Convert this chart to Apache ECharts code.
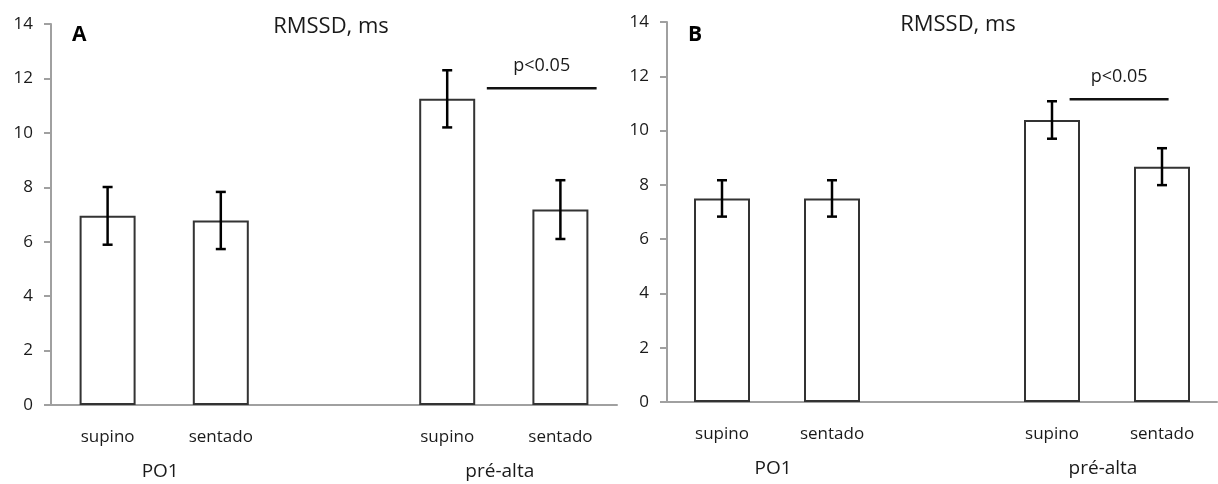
<!DOCTYPE html>
<html><head><meta charset="utf-8">
<script src="https://cdn.jsdelivr.net/npm/echarts@6/dist/echarts.min.js"></script>
<style>html,body{margin:0;padding:0;background:#fff}#c{width:1218px;height:484px}</style>
</head><body><div id="c"></div>
<script>
// ---- data ----
const categories = ['supino', 'sentado', '', 'supino', 'sentado'];
const groupNames = ['PO1', 'pré-alta'];
const groupFrom = [0, 3];
const groupTo = [1, 4];
const yMin = 0, yMax = 14, yStep = 2;
const titleText = 'RMSSD, ms';
const panelLetters = ['A', 'B'];

const meanA = [6.95, 6.78, null, 11.25, 7.18];
const errA  = [1.06, 1.05, null, 1.05, 1.08];
const meanB = [7.50, 7.50, null, 10.39, 8.67];
const errB  = [0.67, 0.67, null, 0.69, 0.68];

const sigText = 'p<0.05';
const sigFromA = 3.35, sigToA = 4.32, sigYA = 11.64;
const sigFromB = 3.16, sigToB = 4.06, sigYB = 11.15;

// ---- rendering ----
const FONT = '"Open Sans"';
const TXT = '#1a1a1a';
const AXIS = '#a0a0a0';

function errData(mean, err) {
  const out = [];
  mean.forEach((m, i) => { if (m != null) out.push([i, m - err[i], m + err[i]]); });
  return out;
}
function fracX(api, f, y) {
  const base = Math.floor(f);
  const band = api.size([1, 0])[0];
  return api.coord([base, y])[0] + (f - base) * band;
}
function errSeries(idx, mean, err) {
  return {
    type: 'custom', xAxisIndex: idx, yAxisIndex: idx, z: 5,
    data: errData(mean, err),
    encode: { x: 0, y: [1, 2] },
    renderItem(params, api) {
      const x = api.value(0);
      const pHi = api.coord([x, api.value(2)]);
      const pLo = api.coord([x, api.value(1)]);
      const c = 5;
      const st = { stroke: '#000', lineWidth: 2.5 };
      return { type: 'group', children: [
        { type: 'line', shape: { x1: pHi[0], y1: pHi[1], x2: pLo[0], y2: pLo[1] }, style: st },
        { type: 'line', shape: { x1: pHi[0] - c, y1: pHi[1], x2: pHi[0] + c, y2: pHi[1] }, style: st },
        { type: 'line', shape: { x1: pLo[0] - c, y1: pLo[1], x2: pLo[0] + c, y2: pLo[1] }, style: st }
      ]};
    }
  };
}
function sigSeries(idx, from, to, y) {
  return {
    type: 'custom', xAxisIndex: idx, yAxisIndex: idx, z: 6,
    data: [[Math.floor(from), y]],
    renderItem(params, api) {
      const x1 = fracX(api, from, y), x2 = fracX(api, to, y);
      const py = api.coord([Math.floor(from), y])[1];
      return { type: 'group', children: [
        { type: 'line', shape: { x1: x1, y1: py, x2: x2, y2: py }, style: { stroke: '#111', lineWidth: 2.5 } },
        { type: 'text', x: (x1 + x2) / 2, y: py - 22,
          style: { text: sigText, fontSize: 18, fontFamily: FONT, fill: TXT, align: 'center', verticalAlign: 'middle' } }
      ]};
    }
  };
}
function groupSeries(idx) {
  return {
    type: 'custom', xAxisIndex: idx, yAxisIndex: idx, z: 6,
    data: groupNames.map((g, i) => [groupFrom[i], 0]),
    renderItem(params, api) {
      const i = params.dataIndex;
      const a = api.coord([groupFrom[i], 0]);
      const b = api.coord([groupTo[i], 0]);
      return { type: 'text', x: (a[0] + b[0]) / 2 - 4, y: a[1] + 67,
        style: { text: groupNames[i], fontSize: 19, fontFamily: FONT, fill: TXT, align: 'center', verticalAlign: 'middle' } };
    }
  };
}
function xAxis(idx) {
  return {
    type: 'category', gridIndex: idx, data: categories,
    axisTick: { show: false },
    axisLine: { lineStyle: { color: AXIS, width: 2 } },
    axisLabel: { margin: 24, fontSize: 17, fontFamily: FONT, color: TXT, interval: 0 }
  };
}
function yAxis(idx) {
  return {
    type: 'value', gridIndex: idx, min: yMin, max: yMax, interval: yStep,
    splitLine: { show: false },
    axisLine: { show: true, lineStyle: { color: AXIS, width: 2 } },
    axisTick: { show: true, length: 7, lineStyle: { color: AXIS, width: 2 } },
    axisLabel: { margin: 18, fontSize: 17, fontFamily: FONT, color: TXT }
  };
}
function barSeries(idx, mean) {
  return {
    type: 'bar', xAxisIndex: idx, yAxisIndex: idx, data: mean, barWidth: 56,
    itemStyle: { color: '#fff', borderColor: '#333', borderWidth: 2 }
  };
}

const chart = echarts.init(document.getElementById('c'), null, { renderer: 'canvas' });
chart.setOption({
  animation: false,
  backgroundColor: '#fff',
  grid: [
    { left: 51, top: 24, width: 566, height: 381 },
    { left: 667, top: 22, width: 550, height: 380 }
  ],
  xAxis: [xAxis(0), xAxis(1)],
  yAxis: [yAxis(0), yAxis(1)],
  series: [
    barSeries(0, meanA), errSeries(0, meanA, errA), sigSeries(0, sigFromA, sigToA, sigYA), groupSeries(0),
    barSeries(1, meanB), errSeries(1, meanB, errB), sigSeries(1, sigFromB, sigToB, sigYB), groupSeries(1)
  ],
  graphic: [
    { type: 'text', x: 331, y: 27, style: { text: titleText, fontSize: 22, fontFamily: FONT, fill: TXT, align: 'center', verticalAlign: 'middle' } },
    { type: 'text', x: 958, y: 25, style: { text: titleText, fontSize: 22, fontFamily: FONT, fill: TXT, align: 'center', verticalAlign: 'middle' } },
    { type: 'text', x: 72, y: 35, style: { text: panelLetters[0], fontSize: 21, fontWeight: 'bold', fontFamily: FONT, fill: '#000', align: 'left', verticalAlign: 'middle' } },
    { type: 'text', x: 688, y: 35, style: { text: panelLetters[1], fontSize: 21, fontWeight: 'bold', fontFamily: FONT, fill: '#000', align: 'left', verticalAlign: 'middle' } }
  ]
});
</script>
</body></html>
